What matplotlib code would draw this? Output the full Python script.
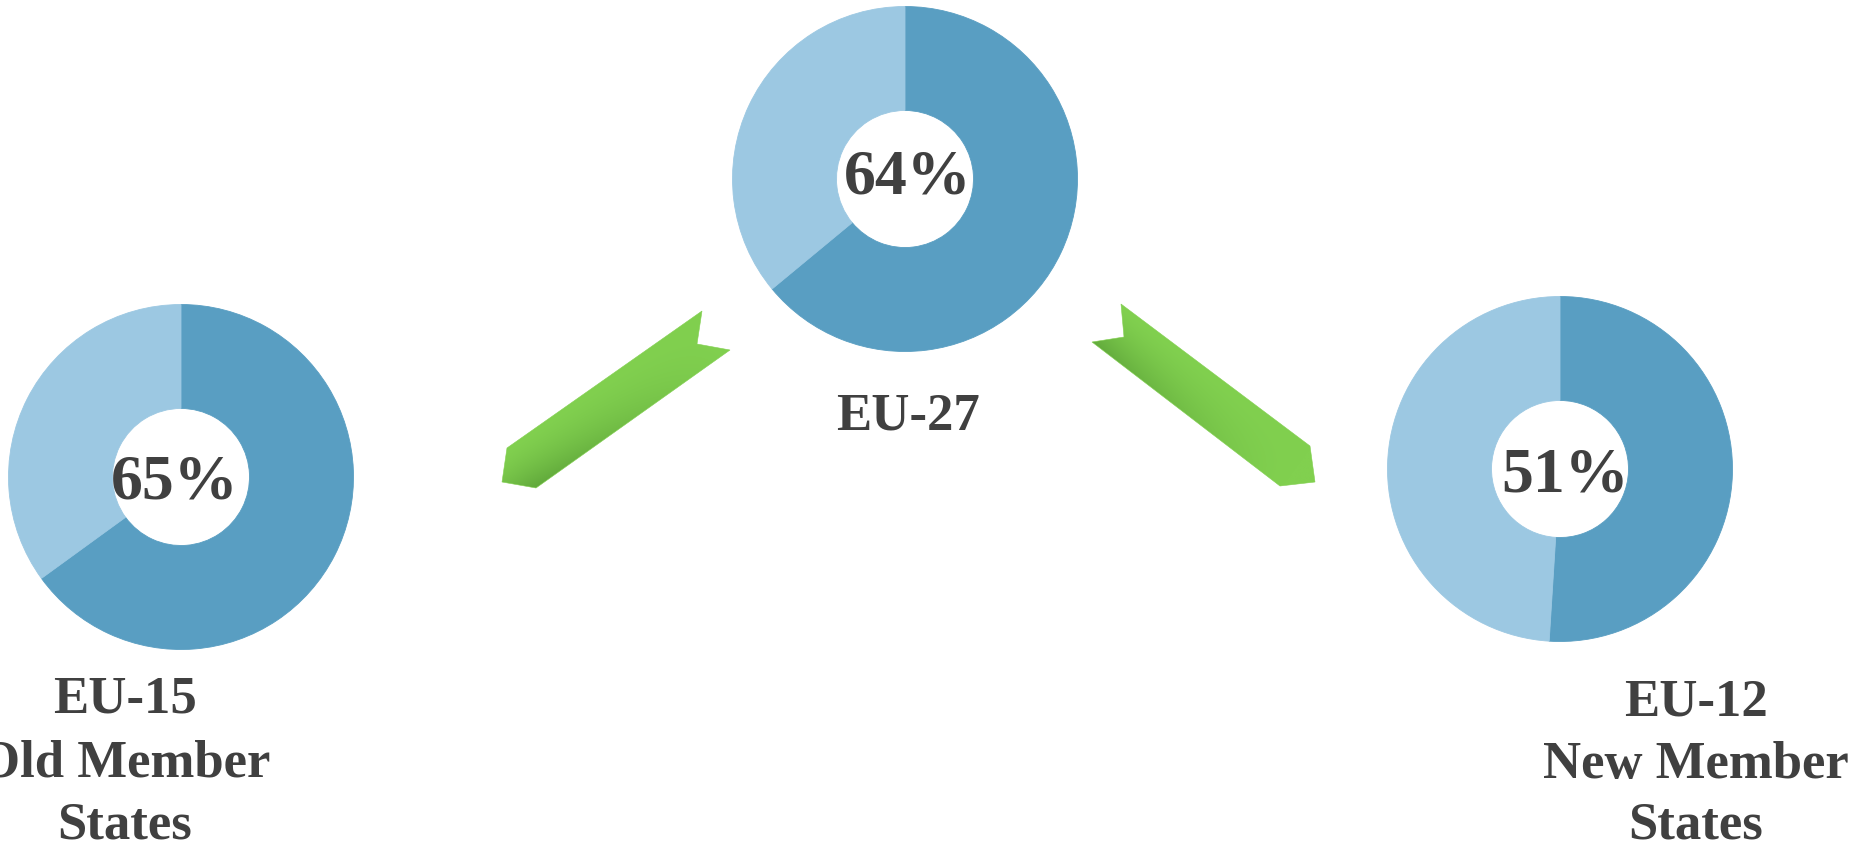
import numpy as np
import matplotlib
matplotlib.use("Agg")
import matplotlib.pyplot as plt
from matplotlib.patches import Polygon
from matplotlib.colors import to_rgb

# ---------------- data ----------------
regions = ["EU-15", "EU-27", "EU-12"]
shares = [65, 64, 51]
subtitles = [["Old Member", "States"], [], ["New Member", "States"]]

# ---------------- layout (pixel space, y downward) ----------------
W, H = 1860, 845
centers = [(181, 478), (905, 180), (1560, 470)]
R_OUT = 172.5
R_IN = 68.5
pct_x = [175, 908, 1565]
pct_base = [499, 193, 492]
label_x = [125, 908, 1696]
label_base = [[713, 777, 839], [430], [716, 778, 839]]

DARK = "#599EC2"
LIGHT = "#9CC8E2"
TXT = "#404040"
G_LIGHT = "#81D04F"
G_DARK = "#62AA3C"
FONT = ["Liberation Serif", "DejaVu Serif"]

fig = plt.figure(figsize=(W / 100, H / 100), dpi=100)
ax = fig.add_axes([0, 0, 1, 1])


def Y(v):
    return H - v


for i, (name, val) in enumerate(zip(regions, shares)):
    cx, cy = centers[i]
    wedges, _ = ax.pie([val, 100 - val], colors=[DARK, LIGHT], startangle=90,
                       counterclock=False, center=(cx, Y(cy)), radius=R_OUT,
                       wedgeprops=dict(width=R_OUT - R_IN, linewidth=0))
    for w in wedges:
        w.set_edgecolor(w.get_facecolor())
        w.set_linewidth(0.6)
    ax.text(pct_x[i], Y(pct_base[i]), f"{val}%", ha="center", va="baseline",
            fontsize=46, fontweight="bold", family=FONT, color=TXT, zorder=5)
    lines = [name] + subtitles[i]
    for line, b in zip(lines, label_base[i]):
        ax.text(label_x[i], Y(b), line, ha="center", va="baseline",
                fontsize=38, fontweight="bold", family=FONT, color=TXT, zorder=5)


def gradient_arrow(pts, tail, head, half_w, normal, tfun):
    pts = np.array(pts, float)
    pd = np.column_stack([pts[:, 0], Y(pts[:, 1])])
    poly = Polygon(pd, closed=True, facecolor="none", edgecolor="none")
    ax.add_patch(poly)
    x0, y0 = pd.min(0)
    x1, y1 = pd.max(0)
    xs = np.linspace(x0, x1, 400)
    ys = np.linspace(y0, y1, 400)
    X, YY = np.meshgrid(xs, ys)
    Py = H - YY  # pixel-space y
    tail = np.array(tail, float)
    head = np.array(head, float)
    d = head - tail
    L = np.hypot(*d)
    u = d / L
    along = ((X - tail[0]) * u[0] + (Py - tail[1]) * u[1]) / L
    n = np.array(normal, float)
    n = n / np.hypot(*n)
    s = ((X - tail[0]) * n[0] + (Py - tail[1]) * n[1]) / half_w
    t = np.clip(tfun(np.clip(along, 0, 1), np.clip((s + 1) / 2, 0, 1)), 0, 1)
    c0 = np.array(to_rgb(G_LIGHT))
    c1 = np.array(to_rgb(G_DARK))
    img = c0[None, None, :] + (c1 - c0)[None, None, :] * t[..., None]
    im = ax.imshow(img, extent=(x0, x1, y0, y1), origin="lower",
                   interpolation="bilinear", zorder=2)
    im.set_clip_path(poly)
    # outline edge in light green for crisp antialiasing
    ax.add_patch(Polygon(pd, closed=True, facecolor="none", edgecolor=G_LIGHT,
                         linewidth=0.4, zorder=2))


# left arrow (EU-27 -> EU-15)
gradient_arrow([(702, 312), (507, 449), (502, 483), (536, 489), (730, 351), (697, 345)],
               tail=(716, 331), head=(521, 469), half_w=24, normal=(0.576, 0.819),
               tfun=lambda a, s: (s ** 1.5) * (a ** 1.2) * 1.0)
# right arrow (EU-27 -> EU-12)
gradient_arrow([(1121, 305), (1310, 447), (1315, 483), (1280, 487), (1092, 343), (1124, 338)],
               tail=(1106, 324), head=(1297, 467), half_w=24, normal=(-0.6, 0.8),
               tfun=lambda a, s: (s ** 1.5) * ((1 - a) ** 1.2) * 1.0)

ax.set_xlim(0, W)
ax.set_ylim(0, H)
ax.set_aspect("equal")
ax.axis("off")
fig.savefig("out.png", dpi=100, facecolor="white")
